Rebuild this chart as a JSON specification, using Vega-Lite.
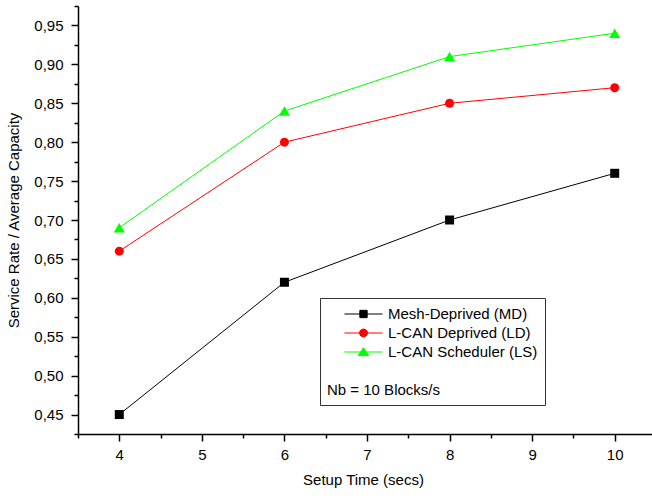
{
  "$schema": "https://vega.github.io/schema/vega-lite/v6.json",
  "autosize": "none",
  "width": 578,
  "height": 428,
  "padding": {"left": 78, "top": 6, "right": 0, "bottom": 65},
  "background": "white",
  "config": {
    "view": {"stroke": null},
    "font": "Liberation Sans",
    "axis": {"labelFont": "Liberation Sans", "titleFont": "Liberation Sans", "labelColor": "#000", "titleColor": "#000", "labelFontSize": 15, "titleFontSize": 15, "titleFontWeight": "normal", "grid": false, "domainColor": "#000", "tickColor": "#000", "domainWidth": 1.5, "tickWidth": 1.5}
  },
  "data": {
    "values": [
      {"series": "Mesh-Deprived (MD)", "setup": 4, "rate": 0.45},
      {"series": "Mesh-Deprived (MD)", "setup": 6, "rate": 0.62},
      {"series": "Mesh-Deprived (MD)", "setup": 8, "rate": 0.70},
      {"series": "Mesh-Deprived (MD)", "setup": 10, "rate": 0.76},
      {"series": "L-CAN Deprived (LD)", "setup": 4, "rate": 0.66},
      {"series": "L-CAN Deprived (LD)", "setup": 6, "rate": 0.80},
      {"series": "L-CAN Deprived (LD)", "setup": 8, "rate": 0.85},
      {"series": "L-CAN Deprived (LD)", "setup": 10, "rate": 0.87},
      {"series": "L-CAN Scheduler (LS)", "setup": 4, "rate": 0.69},
      {"series": "L-CAN Scheduler (LS)", "setup": 6, "rate": 0.84},
      {"series": "L-CAN Scheduler (LS)", "setup": 8, "rate": 0.91},
      {"series": "L-CAN Scheduler (LS)", "setup": 10, "rate": 0.94}
    ]
  },
  "layer": [
    {
      "mark": {"type": "line", "strokeWidth": 1},
      "encoding": {
        "x": {"field": "setup", "type": "quantitative", "scale": {"domain": [3.5, 10.5], "nice": false, "zero": false},
          "axis": {"title": "Setup Time (secs)", "values": [4, 5, 6, 7, 8, 9, 10], "tickSize": 7, "labelPadding": 6, "titlePadding": 10, "titleX": 285, "labelFlush": false}},
        "y": {"field": "rate", "type": "quantitative", "scale": {"domain": [0.425, 0.975], "nice": false, "zero": false},
          "axis": {"title": "Service Rate / Average Capacity", "values": [0.45, 0.5, 0.55, 0.6, 0.65, 0.7, 0.75, 0.8, 0.85, 0.9, 0.95], "tickSize": 7, "labelPadding": 8, "titlePadding": 12, "labelExpr": "replace(format(datum.value, '.2f'), '.', ',')", "labelFlush": false}},
        "color": {"field": "series", "type": "nominal",
          "scale": {"domain": ["Mesh-Deprived (MD)", "L-CAN Deprived (LD)", "L-CAN Scheduler (LS)"], "range": ["#000000", "#ff0000", "#00ff00"]},
          "legend": {
            "orient": "none", "legendX": 242, "legendY": 292,
            "title": "Nb = 10 Blocks/s",
            "titleOrient": "bottom", "titleAnchor": "start", "titlePadding": 23,
            "titleFont": "Liberation Sans", "titleFontSize": 15, "titleFontWeight": "normal", "titleColor": "#000",
            "labelFont": "Liberation Sans", "labelFontSize": 15, "labelColor": "#000", "labelLimit": 600,
            "symbolSize": 289, "symbolStrokeWidth": 1, "symbolOffset": 27.5, "labelOffset": 15.5, "rowPadding": 2,
            "padding": 7, "strokeColor": "#333", "fillColor": "white"
          }}
      }
    },
    {
      "transform": [{"filter": "datum.series === 'Mesh-Deprived (MD)'"}],
      "mark": {"type": "point", "filled": true, "opacity": 1, "shape": "square", "size": 1},
      "encoding": {
        "x": {"field": "setup", "type": "quantitative",
          "axis": {"orient": "bottom", "values": [3.5, 4.5, 5.5, 6.5, 7.5, 8.5, 9.5, 10.5], "tickSize": 4, "labels": false, "domain": false, "title": null}},
        "y": {"field": "rate", "type": "quantitative",
          "axis": {"orient": "left", "values": [0.425, 0.475, 0.525, 0.575, 0.625, 0.675, 0.725, 0.775, 0.825, 0.875, 0.925, 0.975], "tickSize": 4, "labels": false, "domain": false, "title": null}},
        "color": {"field": "series", "type": "nominal"},
        "shape": {"field": "series", "type": "nominal",
          "scale": {"domain": ["Mesh-Deprived (MD)", "L-CAN Deprived (LD)", "L-CAN Scheduler (LS)"],
            "range": ["M-2.24,0L2.24,0M-0.43,-0.43L0.43,-0.43L0.43,0.43L-0.43,0.43Z", "M-2.24,0L2.24,0M0.47,0L0.407,0.235L0.235,0.407L0,0.47L-0.235,0.407L-0.407,0.235L-0.47,0L-0.407,-0.235L-0.235,-0.407L0,-0.47L0.235,-0.407L0.407,-0.235Z", "M-2.24,0L2.24,0M0,-0.5L0.62,0.42L-0.62,0.42Z"]},
          "legend": {
            "orient": "none", "legendX": 242, "legendY": 292,
            "title": "Nb = 10 Blocks/s",
            "titleOrient": "bottom", "titleAnchor": "start", "titlePadding": 23,
            "titleFont": "Liberation Sans", "titleFontSize": 15, "titleFontWeight": "normal", "titleColor": "#000",
            "labelFont": "Liberation Sans", "labelFontSize": 15, "labelColor": "#000", "labelLimit": 600,
            "symbolSize": 289, "symbolStrokeWidth": 1, "symbolOffset": 27.5, "labelOffset": 15.5, "rowPadding": 2,
            "padding": 7, "strokeColor": "#333", "fillColor": "white"
          }}
      }
    },
    {
      "transform": [{"filter": "datum.series === 'Mesh-Deprived (MD)'"}],
      "mark": {"type": "point", "filled": true, "opacity": 1, "shape": "square", "size": 81, "color": "#000000"},
      "encoding": {
        "x": {"field": "setup", "type": "quantitative", "axis": null},
        "y": {"field": "rate", "type": "quantitative", "axis": null}
      }
    },
    {
      "transform": [{"filter": "datum.series === 'L-CAN Deprived (LD)'"}],
      "mark": {"type": "point", "filled": true, "opacity": 1, "shape": "circle", "size": 81, "color": "#ff0000"},
      "encoding": {
        "x": {"field": "setup", "type": "quantitative", "axis": null},
        "y": {"field": "rate", "type": "quantitative", "axis": null}
      }
    },
    {
      "transform": [{"filter": "datum.series === 'L-CAN Scheduler (LS)'"}],
      "mark": {"type": "point", "filled": true, "opacity": 1, "shape": "triangle-up", "size": 121, "color": "#00ff00"},
      "encoding": {
        "x": {"field": "setup", "type": "quantitative", "axis": null},
        "y": {"field": "rate", "type": "quantitative", "axis": null}
      }
    }
  ],
  "resolve": {"axis": {"x": "independent", "y": "independent"}}
}
